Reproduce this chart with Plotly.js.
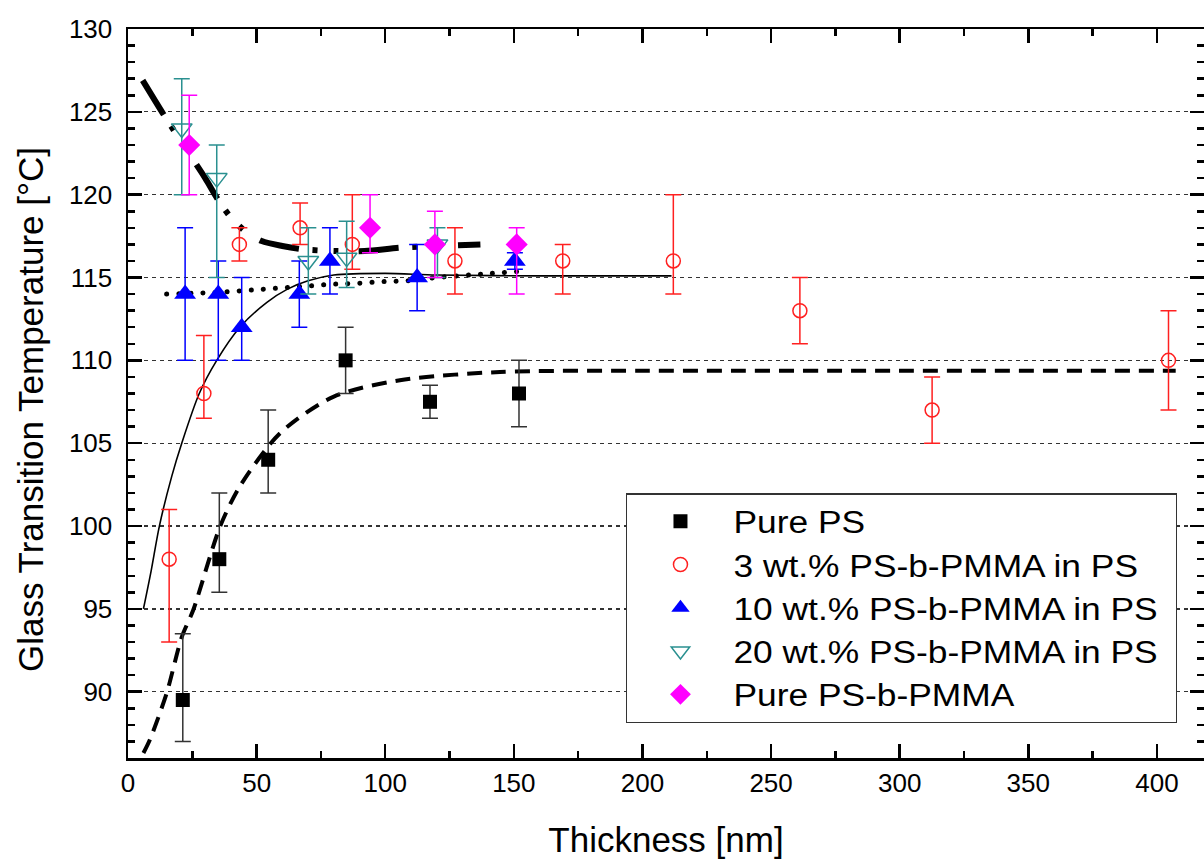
<!DOCTYPE html>
<html>
<head>
<meta charset="utf-8">
<script src="https://cdn.plot.ly/plotly-3.0.1.min.js"></script>
<style>
  html, body { margin: 0; padding: 0; background: #fff; overflow: hidden; }
  #chart { width: 1204px; height: 859px; }
  .scatterlayer .trace:nth-child(2) .js-line { stroke-linecap: round; }
  .legendtext { transform-box: fill-box; transform-origin: 0% 50%; transform: scaleX(1.14); }
  .legend rect.bg { width: 550px; }
</style>
</head>
<body>
<div id="chart"></div>
<script>
// ---- Data ----
// Pure PS
const psX = [21.3, 35.5, 54.5, 84.6, 117.4, 152];
const psY = [89.5, 98, 104, 110, 107.5, 108];
const psErrPlus = [4, 4, 3, 2, 1, 2];
const psErrMinus = [2.5, 2, 2, 2, 1, 2];

// 3 wt.% PS-b-PMMA in PS
const w3X = [16, 29.5, 43.3, 66.9, 87.2, 127.1, 169, 212, 261.2, 312.6, 404.5];
const w3Y = [98, 108, 117, 118, 117, 116, 116, 116, 113, 107, 110];
const w3ErrPlus = [3, 3.5, 1, 1.5, 3, 2, 1, 4, 2, 2, 3];
const w3ErrMinus = [5, 1.5, 1, 1, 1.5, 2, 2, 2, 2, 2, 3];

// 10 wt.% PS-b-PMMA in PS
const w10X = [22.2, 35.1, 44.2, 66.6, 78.5, 112.4, 150.4];
const w10Y = [114, 114, 112, 114, 116, 115, 116];
const w10ErrPlus = [4, 2, 3, 2, 2, 2, 0.5];
const w10ErrMinus = [4, 4, 2, 2, 2, 2, 0.5];

// 20 wt.% PS-b-PMMA in PS
const w20X = [20.9, 34.5, 70.1, 85, 120.3];
const w20Y = [124, 121, 116, 116.2, 117];
const w20ErrPlus = [3, 2, 2, 2.2, 1];
const w20ErrMinus = [4, 6, 2, 1.8, 2];

// Pure PS-b-PMMA
const pbX = [23.8, 94.1, 119.3, 151.1];
const pbY = [123, 118, 117, 117];
const pbErrPlus = [3, 2, 2, 1];
const pbErrMinus = [3, 1.5, 2, 3];

// Fit curves
const fitPsX = [6, 8.5, 15, 20.9, 25.4, 35.8, 43.5, 59.1, 79.8, 105.7, 144.6, 200, 300, 407.3];
const fitPsY = [86.3, 87.1, 89.9, 93.3, 94.95, 99.97, 102.4, 105.6, 107.8, 108.8, 109.3, 109.37, 109.37, 109.37];

const fit3X = [6, 9, 12.2, 17, 20.9, 27.7, 34.5, 43.5, 54, 62, 70, 80, 100, 120, 160, 211.3];
const fit3Y = [95, 97.3, 100, 103, 105, 108, 110, 112, 113.5, 114.3, 114.8, 115.15, 115.25, 115.15, 115.1, 115.1];

const fit10X = [15, 25, 34, 44, 53, 62, 71, 80, 89, 99, 108, 120, 137, 155];
const fit10Y = [114, 114.05, 114.1, 114.2, 114.3, 114.4, 114.5, 114.6, 114.65, 114.75, 114.8, 115, 115.2, 115.4];

const fit20X = [5.7, 14.4, 22.8, 30, 35, 39.6, 45.5, 52, 60, 68, 80, 92, 106, 120, 137];
const fit20Y = [126.9, 124.7, 122.7, 121, 119.7, 118.7, 117.8, 117.2, 116.9, 116.7, 116.6, 116.6, 116.8, 116.9, 117];

const seriesNames = ['Pure PS', '3 wt.% PS-b-PMMA in PS', '10 wt.% PS-b-PMMA in PS', '20 wt.% PS-b-PMMA in PS', 'Pure PS-b-PMMA'];

const xTickVals = [0, 50, 100, 150, 200, 250, 300, 350, 400];
const yTickVals = [90, 95, 100, 105, 110, 115, 120, 125, 130];

const xTitle = 'Thickness [nm]';
const yTitle = 'Glass Transition Temperature [°C]';

// ---- Styling ----
const FONT = 'Liberation Sans, Arial, sans-serif';
const teal = '#2a9090';

function errBars(plus, minus, color) {
  return { type: 'data', symmetric: false, array: plus, arrayminus: minus,
           color: color, thickness: 1.5, width: 8, visible: true };
}

const traces = [
  { x: fit20X, y: fit20Y, mode: 'lines', showlegend: false, hoverinfo: 'skip',
    line: { color: '#000', width: 6, shape: 'spline', smoothing: 0.8, dash: '40px,14px,5px,16px,5px,20px' } },
  { x: fit10X, y: fit10Y, mode: 'lines', showlegend: false, hoverinfo: 'skip',
    line: { color: '#000', width: 5, shape: 'spline', dash: '0.1px,12px' } },
  { x: fit3X, y: fit3Y, mode: 'lines', showlegend: false, hoverinfo: 'skip',
    line: { color: '#000', width: 1.6, shape: 'spline', smoothing: 0.8 } },
  { x: fitPsX, y: fitPsY, mode: 'lines', showlegend: false, hoverinfo: 'skip',
    line: { color: '#000', width: 4, shape: 'spline', smoothing: 0.8, dash: '15px,9px' } },

  { x: psX, y: psY, name: seriesNames[0], mode: 'markers', type: 'scatter',
    marker: { symbol: 'square', size: 14, color: '#000' },
    error_y: errBars(psErrPlus, psErrMinus, '#333') },
  { x: w3X, y: w3Y, name: seriesNames[1], mode: 'markers', type: 'scatter',
    marker: { symbol: 'circle-open', size: 14, color: '#ff2020', line: { width: 1.5, color: '#ff2020' } },
    error_y: errBars(w3ErrPlus, w3ErrMinus, '#ff2020') },
  { x: w10X, y: w10Y, name: seriesNames[2], mode: 'markers', type: 'scatter',
    marker: { symbol: 'triangle-up', size: 19, color: '#0000ff' },
    error_y: errBars(w10ErrPlus, w10ErrMinus, '#0000ff') },
  { x: w20X, y: w20Y, name: seriesNames[3], mode: 'markers', type: 'scatter',
    marker: { symbol: 'triangle-down-open', size: 18, color: teal, line: { width: 1.5, color: teal } },
    error_y: errBars(w20ErrPlus, w20ErrMinus, teal) },
  { x: pbX, y: pbY, name: seriesNames[4], mode: 'markers', type: 'scatter',
    marker: { symbol: 'diamond', size: 17, color: '#ff00ff' },
    error_y: errBars(pbErrPlus, pbErrMinus, '#ff00ff') }
];

const layout = {
  width: 1204, height: 859,
  margin: { l: 128, r: 0, t: 29, b: 101, pad: 0 },
  paper_bgcolor: '#fff', plot_bgcolor: '#fff',
  font: { family: FONT, color: '#000' },
  showlegend: true,
  legend: {
    x: 0.4628, y: 0.3635, xanchor: 'left', yanchor: 'top',
    bgcolor: '#fff', bordercolor: '#333', borderwidth: 1.5,
    font: { family: FONT, size: 31, color: '#000' },
    itemwidth: 96, tracegroupgap: 0
  },
  xaxis: {
    range: [0, 418.3], tickmode: 'array', tickvals: xTickVals, ticktext: xTickVals.map(String),
    showline: true, linecolor: '#000', linewidth: 2.5, mirror: 'allticks',
    ticks: 'inside', ticklen: 14, tickwidth: 2.5, tickcolor: '#000',
    minor: { ticks: 'inside', ticklen: 7, tickwidth: 2.5, tickcolor: '#000', dtick: 25, tick0: 0, showgrid: false },
    showgrid: false, zeroline: false,
    tickfont: { family: FONT, size: 26, color: '#000' },
    title: { text: xTitle, font: { family: FONT, size: 35, color: '#000' }, standoff: 32 }
  },
  yaxis: {
    range: [86, 130], tickmode: 'array', tickvals: yTickVals, ticktext: yTickVals.map(String),
    showline: true, linecolor: '#000', linewidth: 2.5, mirror: 'allticks',
    ticks: 'inside', ticklen: 14, tickwidth: 2.5, tickcolor: '#000',
    minor: { ticks: 'inside', ticklen: 7, tickwidth: 2.5, tickcolor: '#000', dtick: 1, tick0: 86, showgrid: false },
    showgrid: true, gridcolor: '#333', gridwidth: 1.3, griddash: '4px,4px',
    zeroline: false, ticklabelstandoff: 8,
    tickfont: { family: FONT, size: 26, color: '#000' }
  },
  annotations: [{
    text: yTitle, textangle: -90, showarrow: false,
    xref: 'paper', yref: 'paper', x: -0.0911, y: 0.4787, xanchor: 'center', yanchor: 'middle',
    font: { family: FONT, size: 35, color: '#000' }
  }]
};

Plotly.newPlot('chart', traces, layout, { displayModeBar: false, staticPlot: true });
</script>
</body>
</html>
